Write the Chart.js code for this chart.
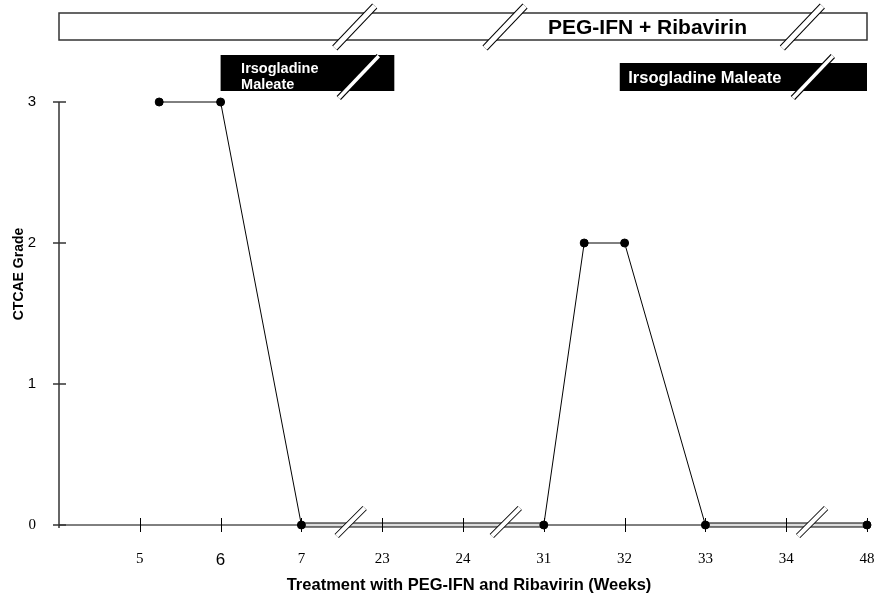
<!DOCTYPE html>
<html>
<head>
<meta charset="utf-8">
<script src="https://cdn.jsdelivr.net/npm/chart.js@4"></script>
<style>
  html, body { margin: 0; padding: 0; background: #fff; }
  #wrap { width: 888px; height: 596px; }
</style>
</head>
<body>
<div id="wrap"><canvas id="chart" width="888" height="596"></canvas></div>
<script>
// week labels sit on an evenly spaced (broken) axis, position = index + 1
const weekLabels = ['5', '6', '7', '23', '24', '31', '32', '33', '34', '48'];
const visitPos = [1.24, 2, 3, 6, 6.5, 7, 8, 10];
const ctcaeGrade = [3, 3, 0, 0, 2, 2, 0, 0];
const gradeTicks = [0, 1, 2, 3];
const steadySpans = [[3, 6], [8, 10]];          // grade 0 held across an axis break
const regimenNames = ['PEG-IFN + Ribavirin', ['Irsogladine', 'Maleate'], ['Irsogladine Maleate']];
const regimenStart = [0, 2, 6.94];
const regimenEnd = [10, 4.15, 10];
const axisBreaks = [3.61, 5.53, 9.32];
const barBreaks = [3.66, 5.52, 9.2];
const boxBreaks = [null, 3.71, 9.33];

const SANS = 'Liberation Sans, Arial, sans-serif';
const SERIF = 'Liberation Serif, Times New Roman, serif';

const points = visitPos.map((x, i) => ({ x, y: ctcaeGrade[i] }));
const band = steadySpans.flatMap(s => [{ x: s[0], y: 0 }, { x: s[1], y: 0 }, { x: s[1], y: null }]);
const isSteady = c => steadySpans.some(s => c.p0.parsed.x === s[0] && c.p1.parsed.x === s[1]);

function slash(ctx, cx, cy, hw, hh, outer, inner) {
  ctx.save();
  ctx.lineCap = 'butt';
  ctx.beginPath();
  ctx.moveTo(cx - hw, cy + hh);
  ctx.lineTo(cx + hw, cy - hh);
  ctx.strokeStyle = '#000'; ctx.lineWidth = outer; ctx.stroke();
  ctx.strokeStyle = '#fff'; ctx.lineWidth = inner; ctx.stroke();
  ctx.restore();
}

function seg(ctx, x1, y1, x2, y2) {
  ctx.beginPath(); ctx.moveTo(x1, y1); ctx.lineTo(x2, y2); ctx.stroke();
}

const decor = {
  id: 'decor',
  beforeDatasetsDraw(chart) {
    const { ctx, chartArea: a } = chart;
    ctx.save();
    ctx.strokeStyle = '#333'; ctx.lineWidth = 1.5;
    seg(ctx, a.left, a.top, a.left, a.bottom + 3);
    ctx.strokeStyle = '#000'; ctx.lineWidth = 1;
    seg(ctx, a.left, a.bottom, a.right, a.bottom);
    ctx.restore();
  },
  afterDatasetsDraw(chart) {
    const { ctx, chartArea: a, scales: { x, y } } = chart;
    ctx.save();

    // tick marks crossing the axes
    ctx.strokeStyle = '#000'; ctx.lineWidth = 1;
    weekLabels.forEach((_, i) => {
      const px = Math.round(x.getPixelForValue(i + 1)) + 0.5;
      seg(ctx, px, a.bottom - 7, px, a.bottom + 7);
    });
    ctx.strokeStyle = '#333'; ctx.lineWidth = 1.5;
    gradeTicks.forEach(v => {
      const py = y.getPixelForValue(v);
      seg(ctx, a.left - 6, py, a.left + 7, py);
    });

    // axis breaks
    axisBreaks.forEach(v => slash(ctx, x.getPixelForValue(v), 522, 14, 14, 6, 4));

    // regimen bars
    const x0 = x.getPixelForValue(regimenStart[0]), x1 = x.getPixelForValue(regimenEnd[0]);
    ctx.fillStyle = '#fff';
    ctx.fillRect(x0, 13, x1 - x0, 27);
    ctx.strokeStyle = '#333'; ctx.lineWidth = 1.5;
    ctx.strokeRect(x0, 13, x1 - x0, 27);
    ctx.fillStyle = '#000';
    ctx.font = 'bold 21px ' + SANS;
    ctx.textAlign = 'left'; ctx.textBaseline = 'alphabetic';
    ctx.fillText(regimenNames[0], 548, 33.5);
    barBreaks.forEach(v => slash(ctx, x.getPixelForValue(v), 27, 20, 21, 7, 5));

    for (let i = 1; i < regimenNames.length; i++) {
      const lines = regimenNames[i];
      const bx0 = x.getPixelForValue(regimenStart[i]), bx1 = x.getPixelForValue(regimenEnd[i]);
      const top = lines.length > 1 ? 55 : 63;
      ctx.fillStyle = '#000';
      ctx.fillRect(bx0, top, bx1 - bx0, 91 - top);
      ctx.fillStyle = '#fff';
      if (lines.length > 1) {
        ctx.font = 'bold 14.5px ' + SANS;
        ctx.fillText(lines[0], bx0 + 20.5, 73);
        ctx.fillText(lines[1], bx0 + 20.5, 88.5);
      } else {
        ctx.font = 'bold 16.5px ' + SANS;
        ctx.fillText(lines[0], bx0 + 8.5, 83);
      }
      if (boxBreaks[i] != null) slash(ctx, x.getPixelForValue(boxBreaks[i]), 77, 20, 21, 6, 3.5);
    }

    // axis titles
    ctx.fillStyle = '#000';
    ctx.font = 'bold 16.5px ' + SANS;
    ctx.textAlign = 'center';
    ctx.fillText('Treatment with PEG-IFN and Ribavirin (Weeks)', 469, 590);
    ctx.translate(23.3, 274);
    ctx.rotate(-Math.PI / 2);
    ctx.font = 'bold 14px ' + SANS;
    ctx.fillText('CTCAE Grade', 0, 0);
    ctx.restore();
  }
};

new Chart(document.getElementById('chart'), {
  type: 'line',
  data: {
    datasets: [
      {
        data: points,
        clip: false,
        borderColor: '#000',
        borderWidth: 1,
        pointRadius: 4,
        pointBackgroundColor: '#000',
        pointBorderColor: '#000',
        segment: { borderColor: c => isSteady(c) ? 'rgba(0,0,0,0)' : '#000' }
      },
      { data: band, clip: false, borderColor: '#dcdcdc', borderWidth: 3, pointRadius: 0, spanGaps: false },
      { data: band, clip: false, borderColor: '#000', borderWidth: 5, pointRadius: 0, spanGaps: false }
    ]
  },
  options: {
    responsive: false,
    animation: false,
    layout: { autoPadding: false, padding: { top: 102, right: 21, left: 0, bottom: 0 } },
    plugins: { legend: { display: false }, tooltip: { enabled: false } },
    scales: {
      x: {
        type: 'linear',
        min: 0,
        max: 10,
        grid: { display: false, drawTicks: false },
        border: { display: false },
        afterBuildTicks: s => { s.ticks = weekLabels.map((_, i) => ({ value: i + 1 })); },
        afterFit: s => { s.height = 71; s.paddingRight = 0; s.paddingLeft = 0; },
        ticks: {
          color: '#000',
          padding: 25,
          autoSkip: false,
          maxRotation: 0,
          callback: (v, i) => weekLabels[i],
          font: c => c.index === 1 ? { family: SANS, size: 17 } : { family: SERIF, size: 15 }
        }
      },
      y: {
        min: 0,
        max: 3,
        grid: { display: false, drawTicks: false },
        border: { display: false },
        afterBuildTicks: s => { s.ticks = gradeTicks.map(v => ({ value: v })); },
        afterFit: s => { s.width = 59; },
        ticks: {
          color: '#000',
          padding: 23,
          font: c => c.index === 0 ? { family: SERIF, size: 15 } : { family: SANS, size: 15 }
        }
      }
    }
  },
  plugins: [decor]
});
</script>
</body>
</html>
